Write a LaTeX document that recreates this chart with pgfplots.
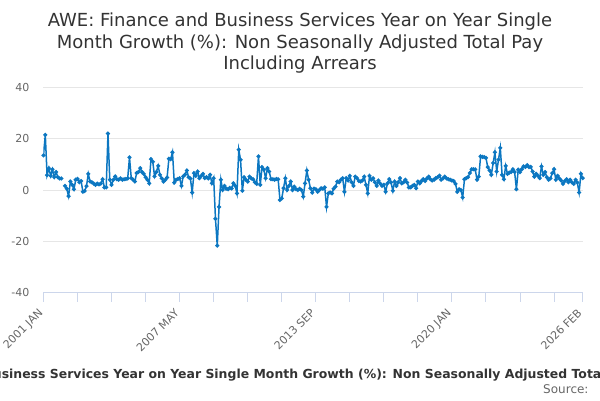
\documentclass[border=0pt]{standalone}
\usepackage{pgfplots}
\pgfplotsset{compat=1.18}
\usepackage{pgfplotstable}
\usepackage{fontspec}
\setmainfont{DejaVu Sans}
\definecolor{linecol}{HTML}{0C77C1}
\definecolor{gridcol}{HTML}{E6E6E6}
\definecolor{axcol}{HTML}{CCD6EB}
\definecolor{titlecol}{HTML}{333333}
\definecolor{labcol}{HTML}{666666}
\pgfplotstableread{
m y
0 13.5
1 21.5
2 5.8
3 8.5
4 5.5
5 8.0
6 5.0
7 7.0
8 5.0
9 4.5
10 4.5
11 nan
12 1.6
13 0.5
14 -2.4
15 3.3
16 2.0
17 0.3
18 4.0
19 4.3
20 3.0
21 3.5
22 -0.7
23 -0.4
24 1.5
25 6.3
26 3.3
27 3.0
28 2.5
29 2.0
30 2.5
31 2.2
32 2.5
33 4.2
34 1.0
35 1.0
36 22.0
37 4.0
38 2.0
39 4.0
40 5.3
41 4.2
42 4.0
43 4.5
44 4.0
45 4.2
46 4.3
47 4.5
48 12.7
49 4.6
50 4.0
51 3.3
52 6.6
53 7.0
54 8.5
55 7.0
56 6.3
57 5.0
58 4.0
59 2.6
60 12.0
61 11.0
62 5.3
63 7.0
64 9.4
65 5.9
66 4.5
67 3.3
68 4.0
69 4.9
70 12.2
71 12.0
72 14.7
73 2.9
74 4.0
75 4.3
76 4.6
77 1.6
78 5.3
79 6.0
80 7.6
81 5.0
82 4.5
83 -1.0
84 6.6
85 5.5
86 7.2
87 4.6
88 5.5
89 6.3
90 4.6
91 5.0
92 4.5
93 5.9
94 2.6
95 4.6
96 -11.2
97 -21.7
98 -6.6
99 4.0
100 0.0
101 1.6
102 0.5
103 0.3
104 0.8
105 0.6
106 2.6
107 1.6
108 -1.3
109 15.7
110 11.8
111 -0.3
112 5.0
113 4.0
114 3.3
115 5.2
116 4.5
117 4.2
118 3.0
119 2.4
120 13.1
121 2.0
122 8.9
123 7.9
124 4.6
125 8.5
126 7.2
127 4.2
128 4.2
129 4.0
130 4.3
131 4.2
132 -3.9
133 -3.3
134 0.7
135 4.6
136 0.0
137 1.6
138 3.3
139 0.0
140 1.3
141 0.3
142 0.0
143 0.5
144 0.0
145 -2.6
146 2.6
147 7.6
148 4.0
149 0.7
150 -1.0
151 0.5
152 0.3
153 -0.7
154 0.0
155 0.7
156 0.5
157 1.0
158 -6.6
159 -1.3
160 -1.0
161 -1.3
162 0.5
163 1.3
164 3.3
165 3.0
166 4.0
167 4.6
168 -0.7
169 4.6
170 3.7
171 5.5
172 3.0
173 1.6
174 5.2
175 4.6
176 3.5
177 3.3
178 3.7
179 5.2
180 2.0
181 -1.3
182 5.5
183 4.0
184 4.6
185 3.0
186 1.6
187 3.7
188 2.5
189 1.6
190 2.0
191 -0.7
192 2.6
193 4.2
194 3.0
195 -0.3
196 3.3
197 1.6
198 3.0
199 4.6
200 2.6
201 3.0
202 4.0
203 2.9
204 1.0
205 1.0
206 1.6
207 2.0
208 0.7
209 3.3
210 2.6
211 3.5
212 4.2
213 3.5
214 4.5
215 5.2
216 4.2
217 3.7
218 4.0
219 4.6
220 5.0
221 5.6
222 4.0
223 4.5
224 5.2
225 4.5
226 4.2
227 4.0
228 3.7
229 3.5
230 2.4
231 -0.7
232 0.3
233 0.0
234 -2.9
235 4.2
236 4.6
237 5.0
238 6.6
239 8.1
240 8.1
241 8.0
242 4.0
243 5.2
244 13.1
245 12.9
246 12.8
247 12.5
248 8.9
249 7.6
250 5.9
251 10.5
252 14.7
253 7.2
254 11.8
255 16.4
256 5.9
257 4.2
258 9.4
259 6.3
260 6.8
261 7.0
262 8.1
263 7.0
264 0.3
265 7.9
266 7.0
267 8.1
268 9.2
269 9.0
270 9.7
271 8.9
272 9.0
273 7.2
274 5.2
275 6.3
276 5.5
277 4.6
278 9.2
279 5.9
280 7.0
281 5.0
282 4.0
283 4.5
284 6.6
285 8.1
286 4.0
287 5.5
288 4.5
289 3.7
290 2.4
291 3.5
292 4.2
293 3.0
294 4.0
295 3.0
296 2.4
297 4.0
298 2.9
299 -1.0
300 6.3
301 4.6
}\datatable
\begin{document}
\begin{tikzpicture}[x=1pt,y=1pt]
\useasboundingbox (0,0) rectangle (600,400);
\begin{axis}[
  at={(43.5pt,107.3pt)}, anchor=south west,
  scale only axis, width=539.2pt, height=205.4pt,
  xmin=0, xmax=301, ymin=-40, ymax=40,
  axis x line*=bottom, axis y line*=left,
  y axis line style={draw=none},
  x axis line style={axcol, line width=1pt, -},
  xtick={0,19,38,57,76,95,114,133,152,171,190,209,228,247,266,285,301},
  xticklabels={2001 JAN,,,,2007 MAY,,,,2013 SEP,,,,2020 JAN,,,,2026 FEB},
  tick align=outside, major tick length=9pt,
  x tick style={axcol, line width=1pt},
  ytick={-40,-20,0,20,40}, y tick style={draw=none},
  ymajorgrids, grid style={gridcol, line width=1pt},
  tick label style={font=\fontsize{11}{13}\selectfont, text=labcol},
  xticklabel style={yshift=-12pt, rotate=45, anchor=base east, inner sep=0pt},
  yticklabel style={anchor=east, inner sep=0pt, xshift=-5pt},
  /pgf/number format/assume math mode=true,
  unbounded coords=jump,
]
\addplot[linecol, line width=1.5pt, mark=*, mark size=1.2pt, mark options={solid}] table[x=m,y=y]{\datatable};
\end{axis}
\begin{scope}[every node/.style={text=titlecol, font=\fontsize{18}{21}\selectfont, anchor=base, inner sep=0pt}]
\node at (300,373.3) {AWE: Finance and Business Services Year on Year Single};
\node at (300,351.7) {Month Growth (\%): Non Seasonally Adjusted Total Pay};
\node at (300,330.3) {Including Arrears};
\end{scope}
\node[anchor=base west, inner sep=0pt, text=titlecol, font=\bfseries\fontsize{12.45}{14}\selectfont] at (-147,21.5) {AWE: Finance and Business Services Year on Year Single Month Growth (\%): Non Seasonally Adjusted Total Pay Including Arrears};
\node[anchor=base east, inner sep=0pt, text=labcol, font=\fontsize{12}{14}\selectfont] at (588.7,6.7) {Source:};
\end{tikzpicture}
\end{document}
